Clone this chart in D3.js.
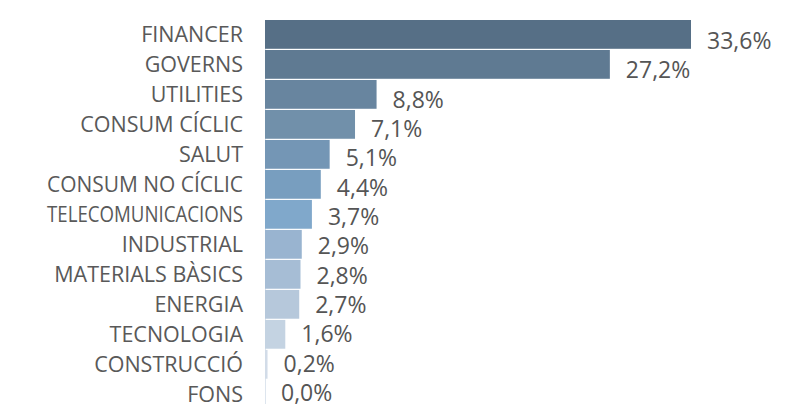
<!DOCTYPE html>
<html><head><meta charset="utf-8">
<script src="https://cdn.jsdelivr.net/npm/d3@7"></script>
<style>body{margin:0;background:#fff;} svg{display:block;}</style>
</head><body><svg id="c" width="790" height="404"></svg>
<script>
const categories = ["FINANCER","GOVERNS","UTILITIES","CONSUM CÍCLIC","SALUT","CONSUM NO CÍCLIC","TELECOMUNICACIONS","INDUSTRIAL","MATERIALS BÀSICS","ENERGIA","TECNOLOGIA","CONSTRUCCIÓ","FONS"];
const values = [33.6,27.2,8.8,7.1,5.1,4.4,3.7,2.9,2.8,2.7,1.6,0.2,0.0];
const colors = ["#566f86","#5f7a92","#68859f","#7190aa","#7496b5","#789ebf","#80a8cb","#99b4d0","#a6bdd5","#b6c8db","#c4d3e2","#d2dce8","#dde5ee"];

const svg = d3.select("#c");
const x = d3.scaleLinear().domain([0,33.6]).range([265,691]);
const y = d3.scaleBand().domain(categories).range([20,408.7]).paddingInner(0.04).paddingOuter(0);
const yv = d3.scalePoint().domain(categories).range([41,393]);
const fmt = v => v.toFixed(1).replace(".", ",") + "%";

svg.append("line").attr("x1",x(0)+0.5).attr("x2",x(0)+0.5)
  .attr("y1",20).attr("y2",404).attr("stroke","#dde5ee").attr("stroke-width",1);

svg.selectAll("rect.bar").data(categories).join("rect")
  .attr("x",x(0)).attr("y",d=>y(d))
  .attr("width",(d,i)=>x(values[i])-x(0))
  .attr("height",y.bandwidth())
  .attr("fill",(d,i)=>colors[i]);

const maxW = 196;
svg.selectAll("text.lab").data(categories).join("text")
  .attr("x",243).attr("y",d=>y(d)+y.bandwidth()/2)
  .attr("dy","0.35em").attr("text-anchor","end")
  .attr("font-family","'Open Sans'").attr("font-size",21.5)
  .attr("fill","#595959").text(d=>d)
  .each(function(){
    if (this.getComputedTextLength() > maxW) {
      d3.select(this).attr("textLength",maxW).attr("lengthAdjust","spacingAndGlyphs");
    }
  });

svg.selectAll("text.val").data(categories).join("text")
  .attr("x",(d,i)=>x(values[i])+16).attr("y",d=>yv(d))
  .attr("dy","0.35em").attr("text-anchor","start")
  .attr("font-family","'Open Sans'").attr("font-size",23)
  .attr("fill","#555").text((d,i)=>fmt(values[i]));
</script></body></html>
